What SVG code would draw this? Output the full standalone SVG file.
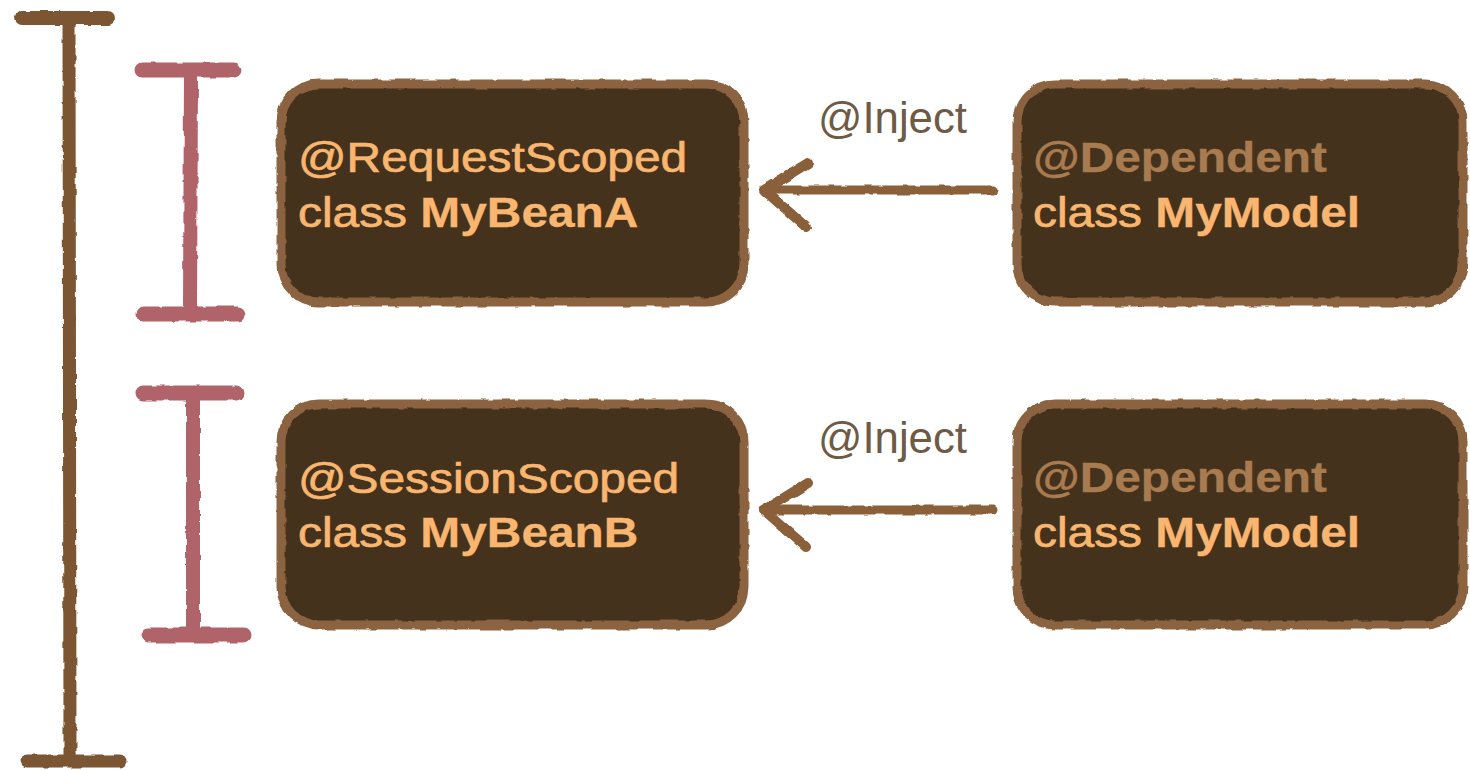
<svg xmlns="http://www.w3.org/2000/svg" width="1470" height="770" viewBox="0 0 1470 770">
<defs>
<filter id="rough" x="-5%" y="-5%" width="110%" height="110%">
<feTurbulence type="fractalNoise" baseFrequency="0.08" numOctaves="2" seed="3" result="n"/>
<feDisplacementMap in="SourceGraphic" in2="n" scale="4" xChannelSelector="R" yChannelSelector="G"/>
</filter>
<style>
.box{fill:#45311f;stroke:#8c6440;stroke-width:9}
.t{font-family:"Liberation Sans",Arial,sans-serif;font-size:42px;fill:#f8b670;stroke:#f8b670;stroke-width:0.7px}
.b{font-weight:bold;stroke-width:0.3px}
.dep{fill:#a87b50;stroke:#a87b50;font-weight:bold;stroke-width:0.3px}
.inj{font-family:"Liberation Sans",Arial,sans-serif;font-size:45px;fill:#6e5a45}
.big{stroke:#7b5430;fill:none;stroke-linecap:round}
.pink{stroke:#b1636a;fill:none;stroke-linecap:round}
.arr{stroke:#8a603a;fill:none;stroke-linecap:round;stroke-linejoin:round}
</style>
</defs>
<rect width="1470" height="770" fill="#ffffff"/>

<g id="scope-brackets" filter="url(#rough)">
<g id="bracket-application">
<line class="big" x1="22" y1="18" x2="108" y2="18" stroke-width="14"/>
<line class="big" x1="69" y1="22" x2="70" y2="756" stroke-width="13"/>
<line class="big" x1="27" y1="761" x2="120" y2="761" stroke-width="13"/>
</g>
<g id="bracket-request">
<line class="pink" x1="142" y1="70" x2="234" y2="70" stroke-width="15"/>
<line class="pink" x1="191" y1="72" x2="190" y2="312" stroke-width="14"/>
<line class="pink" x1="144" y1="314" x2="238" y2="314" stroke-width="15"/>
</g>
<g id="bracket-session">
<line class="pink" x1="143" y1="393" x2="236" y2="393" stroke-width="15"/>
<line class="pink" x1="193" y1="395" x2="193" y2="632" stroke-width="14"/>
<line class="pink" x1="148" y1="635" x2="244" y2="635" stroke-width="15"/>
</g>
</g>

<g id="connectors" filter="url(#rough)">
<g id="inject-1">
<line class="arr" x1="993" y1="190" x2="766" y2="190" stroke-width="9"/>
<polyline class="arr" points="808,163 764,190 806,227" stroke-width="10"/>
</g>
<g id="inject-2">
<line class="arr" x1="993" y1="510" x2="766" y2="510" stroke-width="9"/>
<polyline class="arr" points="808,483 764,510 806,547" stroke-width="10"/>
</g>
</g>
<text class="inj" x="818" y="133" textLength="149" lengthAdjust="spacingAndGlyphs">@Inject</text>
<text class="inj" x="818" y="453" textLength="149" lengthAdjust="spacingAndGlyphs">@Inject</text>

<g id="MyBeanA">
<rect class="box" x="281" y="84" width="463" height="218" rx="38" filter="url(#rough)"/>
<g transform="translate(298,172) scale(1.14,1)">
<text class="t" x="0" y="0">@RequestScoped</text>
<text class="t" x="0" y="55">class <tspan class="b">MyBeanA</tspan></text>
</g>
</g>

<g id="MyModelA">
<rect class="box" x="1017" y="84" width="446" height="218" rx="38" filter="url(#rough)"/>
<g transform="translate(1033,172) scale(1.14,1)">
<text class="t dep" x="0" y="0">@Dependent</text>
<text class="t" x="0" y="55">class <tspan class="b">MyModel</tspan></text>
</g>
</g>

<g id="MyBeanB">
<rect class="box" x="281" y="404" width="463" height="221" rx="38" filter="url(#rough)"/>
<g transform="translate(298,493) scale(1.14,1)">
<text class="t" x="0" y="0">@SessionScoped</text>
<text class="t" x="0" y="54">class <tspan class="b">MyBeanB</tspan></text>
</g>
</g>

<g id="MyModelB">
<rect class="box" x="1017" y="404" width="446" height="221" rx="38" filter="url(#rough)"/>
<g transform="translate(1033,492) scale(1.14,1)">
<text class="t dep" x="0" y="0">@Dependent</text>
<text class="t" x="0" y="55">class <tspan class="b">MyModel</tspan></text>
</g>
</g>
</svg>
